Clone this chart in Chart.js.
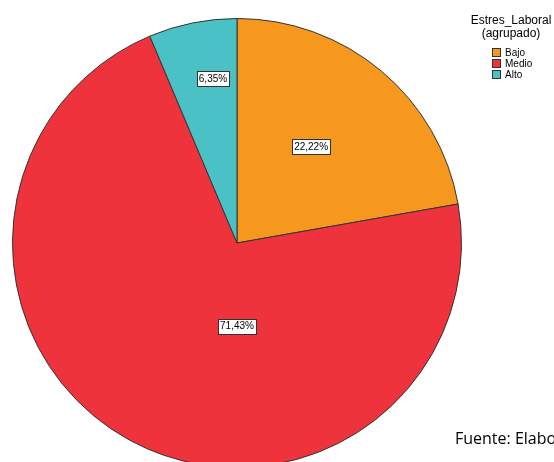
<!DOCTYPE html>
<html>
<head>
<meta charset="utf-8">
<script src="https://cdn.jsdelivr.net/npm/chart.js@4/dist/chart.umd.min.js"></script>
<style>
  html, body { margin: 0; padding: 0; background: #fff; overflow: hidden; }
  #wrap { position: relative; width: 554px; height: 462px; overflow: hidden; }
  #chart { position: absolute; left: 0; top: 0; }
  #fuente { position: absolute; left: 455px; top: 428px; font-family: "Open Sans", sans-serif; font-size: 16px; line-height: 20px; color: #000; white-space: nowrap; }
</style>
</head>
<body>
<div id="wrap">
  <canvas id="chart" width="554" height="470"></canvas>
  <div id="fuente">Fuente: Elaboración propia</div>
</div>
<script>
const categories = ['Bajo', 'Medio', 'Alto'];
const percentages = [22.22, 71.43, 6.35];
const colors = ['#F7981E', '#EF333C', '#4AC1C5'];
const legendTitle = ['Estres_Laboral', '(agrupado)'];

// label anchor per slice, as a fraction of the radius from the centre
const labelOffsets = [[0.33, -0.43], [0.0, 0.37], [-0.107, -0.733]];

const fmt = v => v.toFixed(2).replace('.', ',') + '%';

const sliceLabels = {
    id: 'sliceLabels',
    afterDatasetsDraw(chart) {
        const ctx = chart.ctx;
        const meta = chart.getDatasetMeta(0);
        ctx.save();
        ctx.font = '10px "Liberation Sans", Arial, sans-serif';
        ctx.textAlign = 'center';
        ctx.textBaseline = 'middle';
        meta.data.forEach((arc, i) => {
            const r = arc.outerRadius;
            const x = arc.x + labelOffsets[i][0] * r;
            const y = arc.y + labelOffsets[i][1] * r;
            const text = fmt(chart.data.datasets[0].data[i]);
            const w = ctx.measureText(text).width + 4;
            const h = 15;
            ctx.fillStyle = '#fff';
            ctx.fillRect(Math.round(x - w / 2) + 0.5, Math.round(y - h / 2) + 0.5, Math.round(w), h);
            ctx.strokeStyle = '#333';
            ctx.lineWidth = 1;
            ctx.strokeRect(Math.round(x - w / 2) + 0.5, Math.round(y - h / 2) + 0.5, Math.round(w), h);
            ctx.fillStyle = '#000';
            ctx.fillText(text, x, y + 0.5);
        });
        ctx.restore();
    }
};

const sideLegend = {
    id: 'sideLegend',
    afterDraw(chart) {
        const ctx = chart.ctx;
        ctx.save();
        ctx.fillStyle = '#000';
        ctx.textAlign = 'center';
        ctx.textBaseline = 'middle';
        ctx.font = '12px "Liberation Sans", Arial, sans-serif';
        ctx.fillText(legendTitle[0], 511, 21);
        ctx.fillText(legendTitle[1], 511, 34);
        ctx.font = '10px "Liberation Sans", Arial, sans-serif';
        ctx.textAlign = 'left';
        categories.forEach((c, i) => {
            const y = 48 + i * 11;
            ctx.fillStyle = colors[i];
            ctx.fillRect(492.5, y + 0.5, 8, 8);
            ctx.strokeStyle = '#333';
            ctx.lineWidth = 1;
            ctx.strokeRect(492.5, y + 0.5, 8, 8);
            ctx.fillStyle = '#000';
            ctx.fillText(c, 505, y + 5);
        });
        ctx.restore();
    }
};

new Chart(document.getElementById('chart'), {
    type: 'pie',
    data: {
        labels: categories,
        datasets: [{
            data: percentages,
            backgroundColor: colors,
            borderColor: '#333',
            borderWidth: 1
        }]
    },
    options: {
        responsive: false,
        animation: false,
        layout: { padding: { left: 12, top: 18, right: 92, bottom: 2 } },
        plugins: {
            legend: { display: false },
            tooltip: { enabled: false }
        }
    },
    plugins: [sliceLabels, sideLegend]
});
</script>
</body>
</html>
